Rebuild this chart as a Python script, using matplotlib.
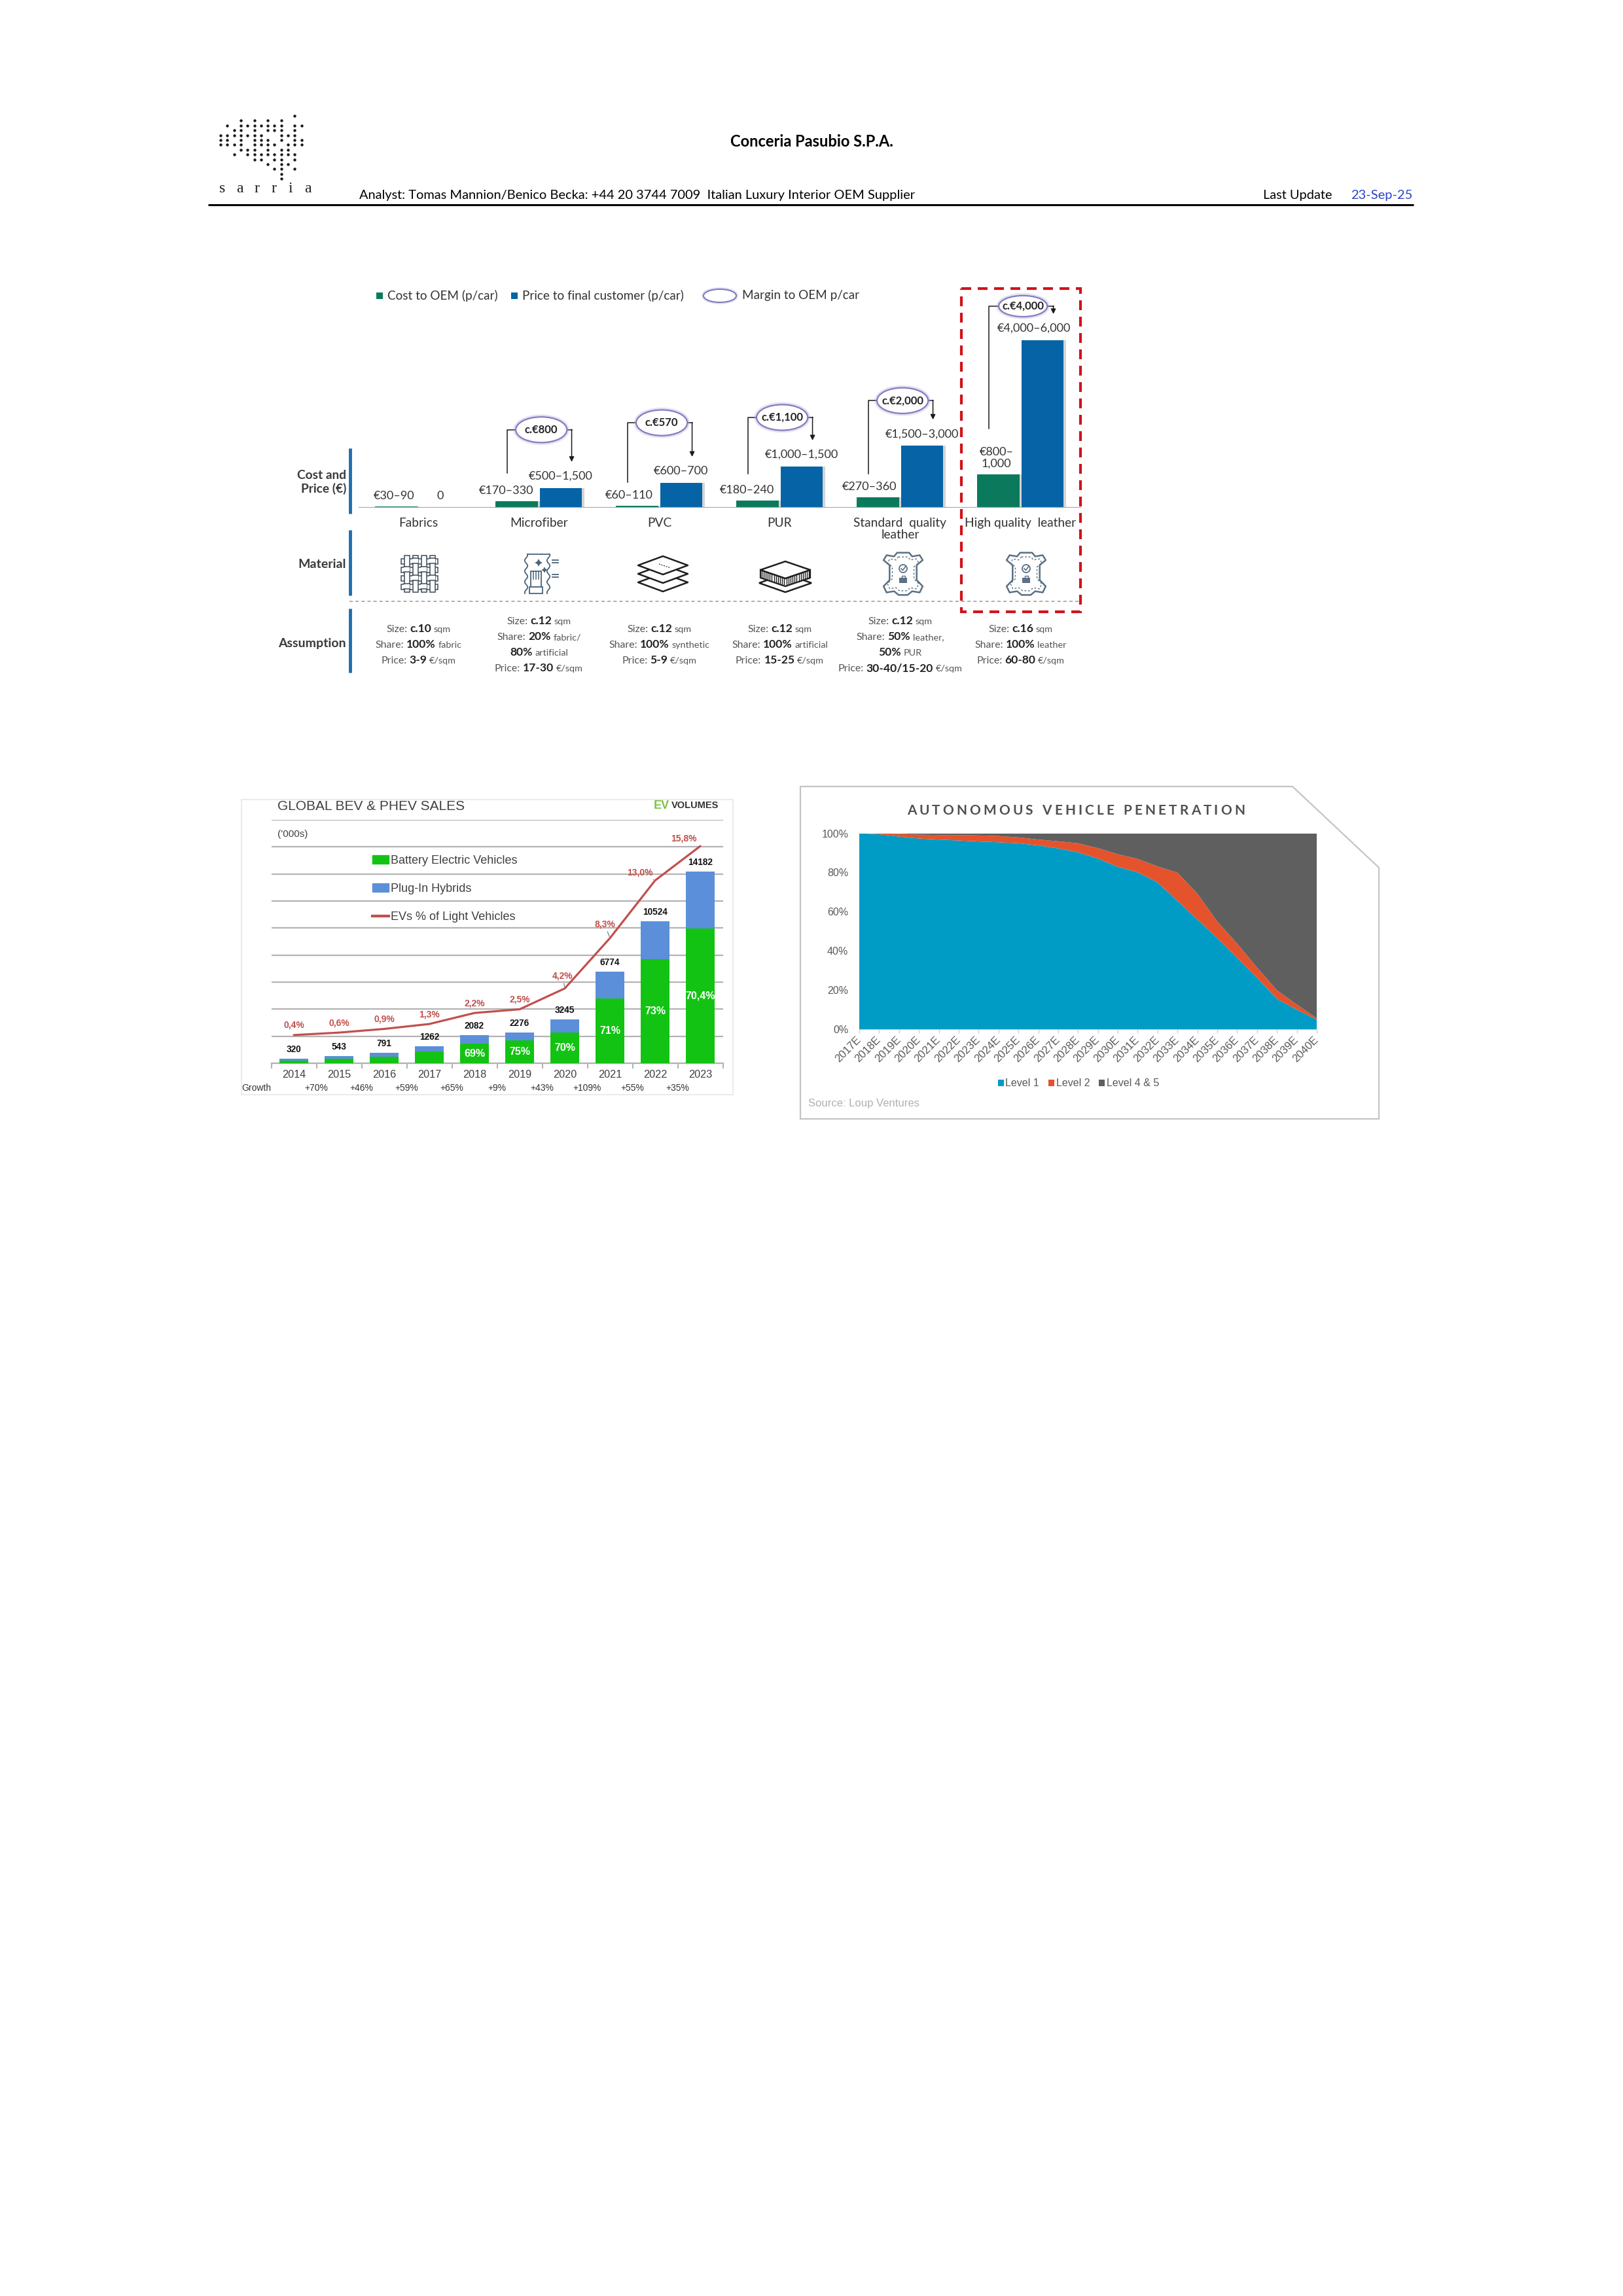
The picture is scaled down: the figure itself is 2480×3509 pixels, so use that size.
import numpy as np
import matplotlib
matplotlib.use("Agg")
import matplotlib.pyplot as plt
from matplotlib.patches import Rectangle, Ellipse, Polygon, Patch, Circle
from matplotlib.lines import Line2D

plt.rcParams['font.family'] = ['Lato', 'DejaVu Sans']

W, H = 2480, 3509

######################
# Materials (top)    #
######################
materials = ["Fabrics", "Microfiber", "PVC", "PUR", "Standard  quality\nleather", "High quality  leather"]
cost_oem = [30, 195, 60, 215, 312, 1000]          # bar heights (EUR/car)
price_customer = [0, 590, 740, 1230, 1850, 5000]
cost_labels = ["€30–90", "€170–330", "€60–110", "€180–240", "€270–360", "€800–\n1,000"]
price_labels = ["0", "€500–1,500", "€600–700", "€1,000–1,500", "€1,500–3,000", "€4,000–6,000"]
margin_labels = ["", "c.€800", "c.€570", "c.€1,100", "c.€2,000", "c.€4,000"]
assumptions = [
    [[("Size:", "r"), ("c.10", "b"), ("sqm", "s")],
     [("Share:", "r"), ("100%", "b"), ("fabric", "s")],
     [("Price:", "r"), ("3-9", "b"), ("€/sqm", "s")]],
    [[("Size:", "r"), ("c.12", "b"), ("sqm", "s")],
     [("Share:", "r"), ("20%", "b"), ("fabric/", "s")],
     [("80%", "b"), ("artificial", "s")],
     [("Price:", "r"), ("17-30", "b"), ("€/sqm", "s")]],
    [[("Size:", "r"), ("c.12", "b"), ("sqm", "s")],
     [("Share:", "r"), ("100%", "b"), ("synthetic", "s")],
     [("Price:", "r"), ("5-9", "b"), ("€/sqm", "s")]],
    [[("Size:", "r"), ("c.12", "b"), ("sqm", "s")],
     [("Share:", "r"), ("100%", "b"), ("artificial", "s")],
     [("Price:", "r"), ("15-25", "b"), ("€/sqm", "s")]],
    [[("Size:", "r"), ("c.12", "b"), ("sqm", "s")],
     [("Share:", "r"), ("50%", "b"), ("leather,", "s")],
     [("50%", "b"), ("PUR", "s")],
     [("Price:", "r"), ("30-40/15-20", "b"), ("€/sqm", "s")]],
    [[("Size:", "r"), ("c.16", "b"), ("sqm", "s")],
     [("Share:", "r"), ("100%", "b"), ("leather", "s")],
     [("Price:", "r"), ("60-80", "b"), ("€/sqm", "s")]],
]

######################
# EV sales           #
######################
ev_years = [2014, 2015, 2016, 2017, 2018, 2019, 2020, 2021, 2022, 2023]
ev_total = [320, 543, 791, 1262, 2082, 2276, 3245, 6774, 10524, 14182]
bev_share = [0.62, 0.60, 0.61, 0.68, 0.69, 0.75, 0.70, 0.71, 0.73, 0.704]
share_labels = ["", "", "", "", "69%", "75%", "70%", "71%", "73%", "70,4%"]
ev_pct = [0.4, 0.6, 0.9, 1.3, 2.2, 2.5, 4.2, 8.3, 13.0, 15.8]
growth_labels = ["+70%", "+46%", "+59%", "+65%", "+9%", "+43%", "+109%", "+55%", "+35%"]

######################
# Autonomous         #
######################
av_years = list(range(2017, 2041))
level1 = [100, 99.5, 98.3, 97.3, 96.8, 96.3, 95.8, 95.4, 94.9, 93.8, 92.3, 90.3,
          87.1, 82.9, 80.1, 74.9, 65.5, 56.0, 46.5, 36.5, 26.3, 15.5, 10.0, 4.9]
level2 = [0, 0.5, 1.4, 2.0, 2.3, 2.8, 3.1, 3.2, 3.0, 3.0, 3.6, 4.6,
          5.3, 6.4, 6.8, 8.2, 14.4, 13.2, 8.5, 7.2, 5.2, 4.4, 2.6, 0.7]
level45 = [0, 0, 0.3, 0.7, 0.9, 0.9, 1.1, 1.4, 2.1, 3.2, 4.1, 5.1,
           7.6, 10.7, 13.1, 16.9, 20.1, 30.8, 45.0, 56.3, 68.5, 80.1, 87.4, 94.4]

fig = plt.figure(figsize=(W / 100, H / 100), dpi=100)
fig.patch.set_facecolor("white")
ov = fig.add_axes([0, 0, 1, 1])
ov.set_xlim(0, W)
ov.set_ylim(H, 0)
ov.axis("off")
renderer = fig.canvas.get_renderer()


def px_axes(x0, y0, x1, y1):
    return fig.add_axes([x0 / W, 1 - y1 / H, (x1 - x0) / W, (y1 - y0) / H])


def text_width(s, **kw):
    t = ov.text(0, 0, s, **kw)
    w = t.get_window_extent(renderer).width
    t.remove()
    return w


def fx(x):
    return x / W


def fy(y):
    return 1 - y / H


##########
# Header #
##########
logo_rows = [
    "           o",
    "   o o o o  ",
    " o ooooooo oo",
    "  oo o ooo o",
    "ooooooo  ooo",
    "oo o ooo o oo",
    "oooo oooo ooo",
    "   ooo o oo",
    "  o oooooooo",
    "     oo oo o",
    "       o oo",
    "        oo o",
    "         o",
    "         o",
]
lx, ly = [], []
for r, row in enumerate(logo_rows):
    for c, ch in enumerate(row):
        if ch == "o":
            lx.append(337 + c * 10.3)
            ly.append(177 + r * 7.4)
ov.scatter(lx, ly, s=10, color="#1a1a1a", linewidths=0)
for k, ch in enumerate("sarria"):
    ov.text(340 + 26 * k, 289, ch, family="Liberation Serif", fontsize=17, ha="center", va="center",
            color="#1a1a1a")

ov.text(1240, 216, "Conceria Pasubio S.P.A.", ha="center", va="center", fontsize=17, fontweight="bold")
ov.text(549, 304, "Analyst: Tomas Mannion/Benico Becka: +44 20 3744 7009  Italian Luxury Interior OEM Supplier",
        ha="left", va="baseline", fontsize=14.4)
ov.text(1930, 304, "Last Update", ha="left", va="baseline", fontsize=14.4)
ov.text(2064, 304, "23-Sep-25", ha="left", va="baseline", fontsize=14.4, color="#2b44c8")
ov.plot([318, 2160], [313, 313], color="black", lw=2.2, solid_capstyle="butt")

##################
# Materials chart #
##################
GREEN, BLUE = "#0b7a5c", "#0563a6"
TXT = "#333333"
ax = px_axes(547.5, 440, 1651.5, 776)
ax.set_xlim(-0.5, 5.5)
ax.set_ylim(0, 6560)
ax.axis("off")
ypp = 6560 / 336   # data units per pixel
xpp = 1 / 184
xi = np.arange(len(materials))
bw = 0.35
ax.bar(xi - 0.185 + 0.018, cost_oem, bw, color="#d4d4d4", zorder=1)
ax.bar(xi + 0.182 + 0.018, price_customer, bw, color="#d4d4d4", zorder=1)
ax.bar(xi - 0.185, cost_oem, bw, color=GREEN, zorder=2)
ax.bar(xi + 0.182, price_customer, bw, color=BLUE, zorder=2)
ax.axhline(0, color="#a8a8a8", lw=1.6, zorder=3)

cost_dx = [-3, -16, -12, -16, -13, -3]
price_dx = [0, 0, 0, 0, 0, -13]
for i in range(len(materials)):
    ax.annotate(cost_labels[i], (i - 0.185, cost_oem[i]), xytext=(cost_dx[i], 8), textcoords="offset pixels",
                ha="center", va="bottom", fontsize=13, color=TXT, linespacing=1.15, annotation_clip=False)
    ax.annotate(price_labels[i], (i + 0.182, price_customer[i]), xytext=(price_dx[i], 10),
                textcoords="offset pixels", ha="center", va="bottom", fontsize=13, color=TXT,
                annotation_clip=False)
    ax.annotate(materials[i], (i, 0), xytext=(0, -15), textcoords="offset pixels", ha="center", va="top",
                fontsize=13.8, color=TXT, linespacing=1.1, annotation_clip=False)

# margin brackets
bracket_rise = [0, 89, 92, 75, 69, 52]   # px above price bar
bracket_foot = [0, 43, 36, 41, 36, 70]   # px above cost bar
for i in range(1, len(materials)):
    xl = i - 0.185 - 0.08
    xr = i + 0.182 + 0.09
    cx = i + 0.02
    y_top = price_customer[i] + bracket_rise[i] * ypp
    y_foot = cost_oem[i] + bracket_foot[i] * ypp
    y_tip = price_customer[i] + 40 * ypp
    ax.plot([xl, xl, xr], [y_foot, y_top, y_top], color="#1a1a1a", lw=1.1, zorder=4, clip_on=False)
    ax.annotate("", xy=(xr, y_tip), xytext=(xr, y_top + 0.5 * ypp),
                arrowprops=dict(arrowstyle="-|>", color="#1a1a1a", lw=1.1, mutation_scale=11,
                                shrinkA=0, shrinkB=0), annotation_clip=False)
    ew = (74 if i == 5 else 78) * xpp
    eh = (32 if i == 5 else 39) * ypp
    for lw_, a in ((6, 0.2), (3.5, 0.4)):
        ax.add_patch(Ellipse((cx, y_top), ew, eh, fc="none", ec="#a9a3dc", lw=lw_, alpha=a, zorder=5,
                             clip_on=False))
    ax.add_patch(Ellipse((cx, y_top), ew, eh, fc="white", ec="#7d77bb", lw=1.4, zorder=6, clip_on=False))
    ax.text(cx, y_top, margin_labels[i], ha="center", va="center", fontsize=12, fontweight="bold",
            color="#222222", zorder=7)

# legend of the materials chart
ov.scatter([580], [452], marker="s", s=44, color=GREEN, linewidths=0)
ov.text(592, 452, "Cost to OEM (p/car)", ha="left", va="center", fontsize=13.6, color=TXT)
ov.scatter([786], [452], marker="s", s=44, color=BLUE, linewidths=0)
ov.text(798, 452, "Price to final customer (p/car)", ha="left", va="center", fontsize=13.6, color=TXT)
ov.add_patch(Ellipse((1100, 452), 50, 20, fc="none", ec="#a9a3dc", lw=4, alpha=0.4))
ov.add_patch(Ellipse((1100, 452), 50, 20, fc="white", ec="#7d77bb", lw=1.4))
ov.text(1134, 452, "Margin to OEM p/car", ha="left", va="center", fontsize=13.6, color=TXT)

# row headers
ROWBLUE = "#1f6db0"
for y0, y1 in ((685, 785), (810, 910), (930, 1028)):
    ov.plot([535, 535], [y0, y1], color=ROWBLUE, lw=3.5, solid_capstyle="butt")
ov.text(529, 737, "Cost and\nPrice (€)", ha="right", va="center", fontsize=13.8, fontweight="bold",
        color="#3a3a3a", linespacing=1.2, multialignment="right")
ov.text(529, 862, "Material", ha="right", va="center", fontsize=14, fontweight="bold", color="#3a3a3a")
ov.text(529, 983, "Assumption", ha="right", va="center", fontsize=14, fontweight="bold", color="#3a3a3a")
ov.plot([534, 1653], [919, 919], color="#a0a0a0", lw=1.2, ls=(0, (3, 2.5)))

# red highlight box
ov.add_patch(Rectangle((1469, 441), 182, 494, fill=False, ec="#d0121b", lw=3, ls=(0, (3.6, 2.4)), zorder=9))

# icons
ICON = "#3e4c5a"


def icon_fabric(cx, cy):
    offs = [-19.5, -6.5, 6.5, 19.5]
    w, half = 8, 28
    for oy in offs:
        ov.add_patch(Rectangle((cx - half, cy + oy - w / 2), 2 * half, w, fc="white", ec=ICON, lw=1.1, zorder=5))
    for ox in offs:
        ov.add_patch(Rectangle((cx + ox - w / 2, cy - half), w, 2 * half, fc="white", ec=ICON, lw=1.1, zorder=6))
    for a, ox in enumerate(offs):
        for b, oy in enumerate(offs):
            if (a + b) % 2:
                ov.add_patch(Rectangle((cx + ox - w / 2 - 0.7, cy + oy - w / 2 + 0.7), w + 1.4, w - 1.4,
                                       fc="white", ec="none", zorder=7))
                for yy in (cy + oy - w / 2, cy + oy + w / 2):
                    ov.plot([cx + ox - w / 2 - 0.7, cx + ox + w / 2 + 0.7], [yy, yy], color=ICON, lw=1.1, zorder=8)


def icon_micro(cx, cy):
    c = "#4a6378"
    t = np.linspace(-30, 30, 80)
    wave = 2.2 * np.sin(t / 2.6)
    ov.plot(cx - 22 + wave, cy + t, color=c, lw=1.3)
    ov.plot(cx + 12 + wave, cy + t, color=c, lw=1.3)
    ov.plot([cx - 22 + wave[0], cx + 12 + wave[0]], [cy - 30, cy - 30], color=c, lw=1.3)
    for yy in (cy - 21, cy - 17, cy + 1, cy + 5):
        ov.plot([cx + 18, cx + 27], [yy, yy], color=c, lw=1.3)
    ov.scatter([cx - 3, cx + 6], [cy - 17, cy - 6], marker=(4, 1, 0), s=[70, 45], color=c, linewidths=0)
    ov.add_patch(Rectangle((cx - 15, cy - 4), 16, 24, fc="white", ec=c, lw=1.3, zorder=5))
    for xx in (cx - 11, cx - 7, cx - 3):
        ov.plot([xx, xx], [cy - 4, cy + 8], color=c, lw=1.1, zorder=6)
    ov.add_patch(Rectangle((cx - 17, cy + 20), 20, 10, fc="white", ec=c, lw=1.3, zorder=6))


def rhombus(cx, cy, hw, hh):
    return [(cx - hw, cy), (cx, cy - hh), (cx + hw, cy), (cx, cy + hh)]


def icon_pvc(cx, cy):
    for k, oy in enumerate([13, 0, -13]):
        ov.add_patch(Polygon(rhombus(cx, cy + oy, 38, 14), closed=True, fc="white", ec="#1e1e1e", lw=1.8,
                             joinstyle="round", zorder=5 + k))
    ov.plot([cx - 6, cx + 12], [cy - 15, cy - 9], color="#1e1e1e", lw=0.9, ls=(0, (1.5, 1.5)), zorder=9)


def icon_pur(cx, cy):
    k = "#1e1e1e"
    ov.add_patch(Polygon(rhombus(cx, cy + 14, 40, 14), closed=True, fc="white", ec=k, lw=1.8, zorder=5))
    front = [(cx - 38, cy - 6), (cx, cy + 7), (cx + 38, cy - 6), (cx + 38, cy + 6), (cx, cy + 19), (cx - 38, cy + 6)]
    ov.add_patch(Polygon(front, closed=True, fc="white", ec=k, lw=1.6, zorder=6))
    for t in np.linspace(0.06, 0.94, 12):
        x1, y1 = cx - 38 + 38 * t, cy - 6 + 13 * t
        ov.plot([x1, x1], [y1, y1 + 12], color=k, lw=1.0, zorder=7)
        x2, y2 = cx + 38 * t, cy + 7 - 13 * t
        ov.plot([x2, x2], [y2, y2 + 12], color=k, lw=1.0, zorder=7)
    ov.add_patch(Polygon(rhombus(cx, cy - 6, 38, 13), closed=True, fc="white", ec=k, lw=1.8, zorder=8))


HIDE = np.array([(-8, -34), (8, -34), (12, -28), (22, -30), (26, -22), (18, -14), (18, 10), (26, 20),
                 (22, 30), (12, 28), (6, 34), (-6, 34), (-12, 28), (-22, 30), (-26, 20), (-18, 10),
                 (-18, -14), (-26, -22), (-22, -30), (-12, -28)], dtype=float)


def icon_leather(cx, cy):
    c = "#5a7084"
    shape = HIDE * [1.15, 0.95]
    ov.add_patch(Polygon(shape + [cx, cy], closed=True, fc="white", ec=c, lw=1.8, joinstyle="round", zorder=5))
    ov.add_patch(Polygon(shape * 0.8 + [cx, cy], closed=True, fill=False, ec=c, lw=1.0, ls=(0, (2, 2)), zorder=6))
    ov.add_patch(Circle((cx, cy - 8), 6, fill=False, ec=c, lw=1.3, zorder=6))
    ov.plot([cx - 3, cx - 0.5, cx + 3.5], [cy - 8, cy - 5.5, cy - 11], color=c, lw=1.2, zorder=6)
    ov.add_patch(Rectangle((cx - 6, cy + 6), 12, 8, fc=c, ec="none", zorder=6))
    ov.plot([cx - 2.5, cx - 2.5, cx + 2.5, cx + 2.5], [cy + 6, cy + 3.5, cy + 3.5, cy + 6], color=c, lw=1, zorder=6)


icon_fabric(641, 877)
icon_micro(826, 877)
icon_pvc(1013, 877)
icon_pur(1200, 877)
icon_leather(1380, 877)
icon_leather(1568, 877)

# assumption texts with mixed weights
STYLES = {
    "r": dict(fontsize=11.4, color="#555555"),
    "b": dict(fontsize=12.6, color="#222222", fontweight="bold"),
    "s": dict(fontsize=10.4, color="#555555"),
}
space_w = {k: text_width("a a", **v) - text_width("aa", **v) for k, v in STYLES.items()}


def rich_line(cx, y, parts):
    widths = [text_width(t, **STYLES[k]) for t, k in parts]
    gaps = [space_w[parts[j + 1][1]] for j in range(len(parts) - 1)] + [0]
    x = cx - (sum(widths) + sum(gaps)) / 2
    for (t, k), w, g in zip(parts, widths, gaps):
        ov.text(x, y, t, ha="left", va="baseline", **STYLES[k])
        x += w + g


for i, lines in enumerate(assumptions):
    cxp = 639.5 + 184 * i
    n = len(lines)
    for j, parts in enumerate(lines):
        yc = 985 + (j - (n - 1) / 2) * 24
        rich_line(cxp, yc + 5, parts)

#####################
# Global BEV & PHEV #
#####################
EVF = "Liberation Sans"
ov.add_patch(Rectangle((369, 1222), 751, 451, fc="white", ec="#ebebeb", lw=1.5))
ov.text(424, 1232, "GLOBAL BEV & PHEV SALES", family=EVF, fontsize=15, color="#404040", ha="left", va="center")
ov.text(999, 1231, "EV", family=EVF, fontsize=13, fontweight="bold", color="#7dc242", ha="left", va="center")
ov.text(1098, 1231, "VOLUMES", family=EVF, fontsize=10.5, fontweight="bold", color="#333333", ha="right",
        va="center")
ov.text(424, 1275, "('000s)", family=EVF, fontsize=11, color="#404040", ha="left", va="center")

ev = px_axes(414.5, 1253, 1104.5, 1625)
ev.set_facecolor("none")
xe = np.arange(len(ev_years))
bev = np.array(ev_total) * np.array(bev_share)
phev = np.array(ev_total) - bev
EVGREEN, EVBLUE, EVRED = "#13c313", "#5b8fd9", "#c0504d"
ev.bar(xe, bev, 0.65, color=EVGREEN, zorder=3)
ev.bar(xe, phev, 0.65, bottom=bev, color=EVBLUE, zorder=3)
ev.set_xlim(-0.5, 9.5)
ev.set_ylim(0, 18000)
ev.set_yticks(np.arange(0, 18001, 2000))
ev.tick_params(axis="y", length=0, labelleft=False)
ev.grid(axis="y", color="#b3b3b3", lw=1.6)
ev.set_axisbelow(True)
for s in ("left", "right", "top"):
    ev.spines[s].set_visible(False)
ev.spines["bottom"].set_color("#b3b3b3")
ev.spines["bottom"].set_linewidth(1.6)
ev.set_xticks(xe, [str(y) for y in ev_years])
ev.set_xticks(np.arange(-0.5, 10), minor=True)
ev.tick_params(axis="x", which="major", length=0, pad=7, labelsize=11.7, labelcolor="#404040",
               labelfontfamily=EVF)
ev.tick_params(axis="x", which="minor", length=6, width=1.5, color="#b3b3b3")

for i, t in enumerate(ev_total):
    ev.annotate(str(t), (i, t), xytext=(0, 7), textcoords="offset pixels", ha="center", va="bottom",
                family=EVF, fontsize=9.8, fontweight="bold", color="#111111")
    if share_labels[i]:
        ev.text(i, bev[i] / 2, share_labels[i], ha="center", va="center", family=EVF, fontsize=11.5,
                fontweight="bold", color="white", zorder=4)

ev2 = ev.twinx()
ev2.set_ylim(-1.9, 17.94)
ev2.plot(xe, ev_pct, color=EVRED, lw=2.3, zorder=5, solid_capstyle="round")
ev2.axis("off")
pct_offsets = [(0, 15)] * 6 + [(-3, 19), (-8, 21), (-23, 12), (-25, 12)]
for i, v in enumerate(ev_pct):
    lead = dict(arrowstyle="-", color="#707070", lw=0.8, shrinkA=1, shrinkB=2) if i in (6, 7, 8) else None
    ev2.annotate(f"{v:.1f}%".replace(".", ","), (i, v), xytext=pct_offsets[i], textcoords="offset pixels",
                 ha="center", va="center", family=EVF, fontsize=10, fontweight="bold", color="#c0504d",
                 arrowprops=lead)

handles = [Patch(color=EVGREEN), Patch(color=EVBLUE), Line2D([], [], color=EVRED, lw=3)]
leg = ev.legend(handles, ["Battery Electric Vehicles", "Plug-In Hybrids", "EVs % of Light Vehicles"],
                loc="upper left", bbox_to_anchor=(fx(569), fy(1307)), bbox_transform=fig.transFigure,
                frameon=False, handlelength=1.4, handleheight=0.75, handletextpad=0.15, labelspacing=1.45,
                borderpad=0, borderaxespad=0, prop={"family": EVF, "size": 13}, labelcolor="#404040")

ev.text(-0.5, -0.102, "Growth", transform=ev.get_xaxis_transform(), ha="right", va="center", family=EVF,
        fontsize=10, color="#333333")
for i, g in enumerate(growth_labels):
    ev.text(i + 0.5, -0.102, g, transform=ev.get_xaxis_transform(), ha="center", va="center", family=EVF,
            fontsize=10, color="#333333")

##################################
# Autonomous vehicle penetration #
##################################
ov.add_patch(Polygon([(1223, 1202), (1975, 1202), (2107, 1326), (2107, 1710), (1223, 1710)], closed=True,
                     fc="white", ec="#c4c4c4", lw=1.6))

title = "AUTONOMOUS VEHICLE PENETRATION"
tkw = dict(fontsize=15, color="#505050", fontweight="bold")
cw = [text_width(ch, **tkw) if ch != " " else 6 for ch in title]
track = (516 - sum(cw)) / (len(title) - 1)
tx = 1644 - 258
for ch, w in zip(title, cw):
    if ch != " ":
        ov.text(tx, 1239, ch, ha="left", va="center", **tkw)
    tx += w + track

av = px_axes(1313, 1273.5, 2012, 1573)
av.stackplot(av_years, level1, level2, level45, colors=["#009cc6", "#e4532c", "#5f5f5f"],
             labels=["Level 1", "Level 2", "Level 4 & 5"], lw=0)
av.set_xlim(2017, 2040)
av.set_ylim(0, 100)
av.set_yticks(range(0, 101, 20), [f"{v}%" for v in range(0, 101, 20)])
av.set_xticks(av_years, [f"{y}E" for y in av_years], rotation=45, ha="right", va="center",
              rotation_mode="anchor")
av.tick_params(axis="y", length=0, pad=12, labelsize=11.5, labelcolor="#595959", labelfontfamily=EVF)
av.tick_params(axis="x", length=4, width=1, color="#cfcfcf", pad=6, labelsize=12, labelcolor="#595959",
               labelfontfamily=EVF)
for s in ("left", "right", "top"):
    av.spines[s].set_visible(False)
av.spines["bottom"].set_color("#d0d0d0")
av.legend(loc="center", bbox_to_anchor=(fx(1648), fy(1656)), bbox_transform=fig.transFigure, ncol=3,
          frameon=False, handlelength=0.55, handleheight=0.55, handletextpad=0.15, columnspacing=0.9,
          prop={"family": EVF, "size": 11.5}, labelcolor="#595959")
ov.text(1235, 1686, "Source: Loup Ventures", family=EVF, fontsize=12, color="#b0b0b0", ha="left", va="center")

fig.savefig("out.png", dpi=100)
